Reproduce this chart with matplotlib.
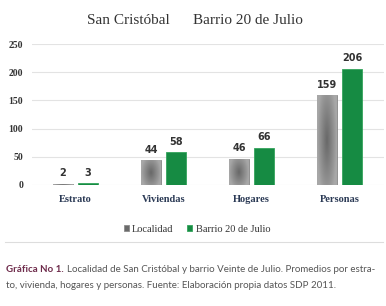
import numpy as np
import matplotlib
matplotlib.use("Agg")
import matplotlib.pyplot as plt

categories = ["Estrato", "Viviendas", "Hogares", "Personas"]
localidad = [2, 44, 46, 159]
barrio = [3, 58, 66, 206]
series_names = ["Localidad", "Barrio 20 de Julio"]
yticks = [0, 50, 100, 150, 200, 250]

W, H = 386, 306
fig = plt.figure(figsize=(W / 100, H / 100), dpi=100)
fig.patch.set_facecolor("white")

ax = fig.add_axes([31.5 / W, 1 - 185 / H, 352 / W, 141 / H])
ax.set_xlim(-0.5, 3.5)
ax.set_ylim(0, 250)
for s in ax.spines.values():
    s.set_visible(False)

x = np.arange(len(categories))
bw = 0.227
off = 0.142
gray_bars = ax.bar(x - off, localidad, bw, color="#6a6a6a", edgecolor="#8c8c8c", linewidth=0.6, zorder=3)
green_bars = ax.bar(x + off, barrio, bw, color="#168b43", edgecolor="#34a45d", linewidth=0.6, zorder=3)

# radial gradient on gray bars
yy, xx = np.mgrid[-1:1:60j, -1:1:60j]
r = np.sqrt(xx ** 2 + (yy * 0.7) ** 2)
grad = np.clip(r, 0, 1)
for b in gray_bars:
    bx, by = b.get_x(), b.get_y()
    bwid, bh = b.get_width(), b.get_height()
    im = ax.imshow(grad, cmap="Greys_r", vmin=-1.5, vmax=3.0, extent=[bx, bx + bwid, by, by + bh],
                   aspect="auto", zorder=3.5, interpolation="bilinear")
    im.set_clip_path(b)

ax.set_yticks(yticks)
ax.set_yticklabels([str(v) for v in yticks], fontfamily="Liberation Serif", fontweight="bold",
                   fontsize=7, color="#333333")
ax.set_xticks(x)
ax.set_xticklabels(categories, fontfamily="Liberation Serif", fontweight="bold", fontsize=7.5,
                   color="#2b3a55")
ax.tick_params(axis="both", length=0)
ax.tick_params(axis="x", pad=7)
ax.tick_params(axis="y", pad=6)
ax.grid(axis="y", color="#e3e3e3", linewidth=0.8, zorder=0)
ax.set_axisbelow(True)

for xi, v in zip(x - off, localidad):
    ax.text(xi, v + 10, str(v), ha="center", va="bottom", fontsize=7, fontweight="bold",
            color="#333333", fontfamily="DejaVu Sans")
for xi, v in zip(x + off, barrio):
    ax.text(xi, v + 10, str(v), ha="center", va="bottom", fontsize=7, fontweight="bold",
            color="#333333", fontfamily="DejaVu Sans")

# title
fig.text(195 / W, 1 - 21 / H, "San Cristóbal      Barrio 20 de Julio", ha="center", va="center",
         fontfamily="Liberation Serif", fontsize=11, color="#333333")

# legend
leg = fig.legend([gray_bars, green_bars], series_names, loc="center", bbox_to_anchor=(197 / W, 1 - 229 / H),
                 ncol=2, frameon=False, prop={"family": "Liberation Serif", "size": 7.5},
                 handlelength=0.5, handleheight=0.5, handletextpad=0.3, columnspacing=1.3)
for t in leg.get_texts():
    t.set_color("#333333")

# separator line
fig.add_artist(plt.Line2D([5 / W, 383 / W], [1 - 242 / H, 1 - 242 / H], color="#dddddd", linewidth=0.8))

# caption, fitted to the reference's line width
renderer = fig.canvas.get_renderer()
cap_font = ["Liberation Sans Narrow", "Lato"]
line1_rest = "Localidad de San Cristóbal y barrio Veinte de Julio. Promedios por estra-"
line2 = "to, vivienda, hogares y personas. Fuente: Elaboración propia datos SDP 2011."
size = 8.5
t1 = fig.text(6 / W, 1 - 269 / H, "Gráfica No 1.", ha="left", va="center", fontfamily=cap_font,
              fontweight="bold", fontsize=size, color="#6e2b4b")
t2 = fig.text(0, 1 - 269 / H, line1_rest, ha="left", va="center", fontfamily=cap_font,
              fontsize=size, color="#555555")
gap = 3
total = t1.get_window_extent(renderer).width + gap + t2.get_window_extent(renderer).width
size = size * (371 / total)
t1.set_fontsize(size)
t2.set_fontsize(size)
bb = t1.get_window_extent(renderer)
t2.set_x((bb.x1 + gap) / W)
fig.text(6 / W, 1 - 285 / H, line2, ha="left", va="center", fontfamily=cap_font,
         fontsize=size, color="#555555")

fig.savefig("out.png", dpi=100, facecolor="white")
